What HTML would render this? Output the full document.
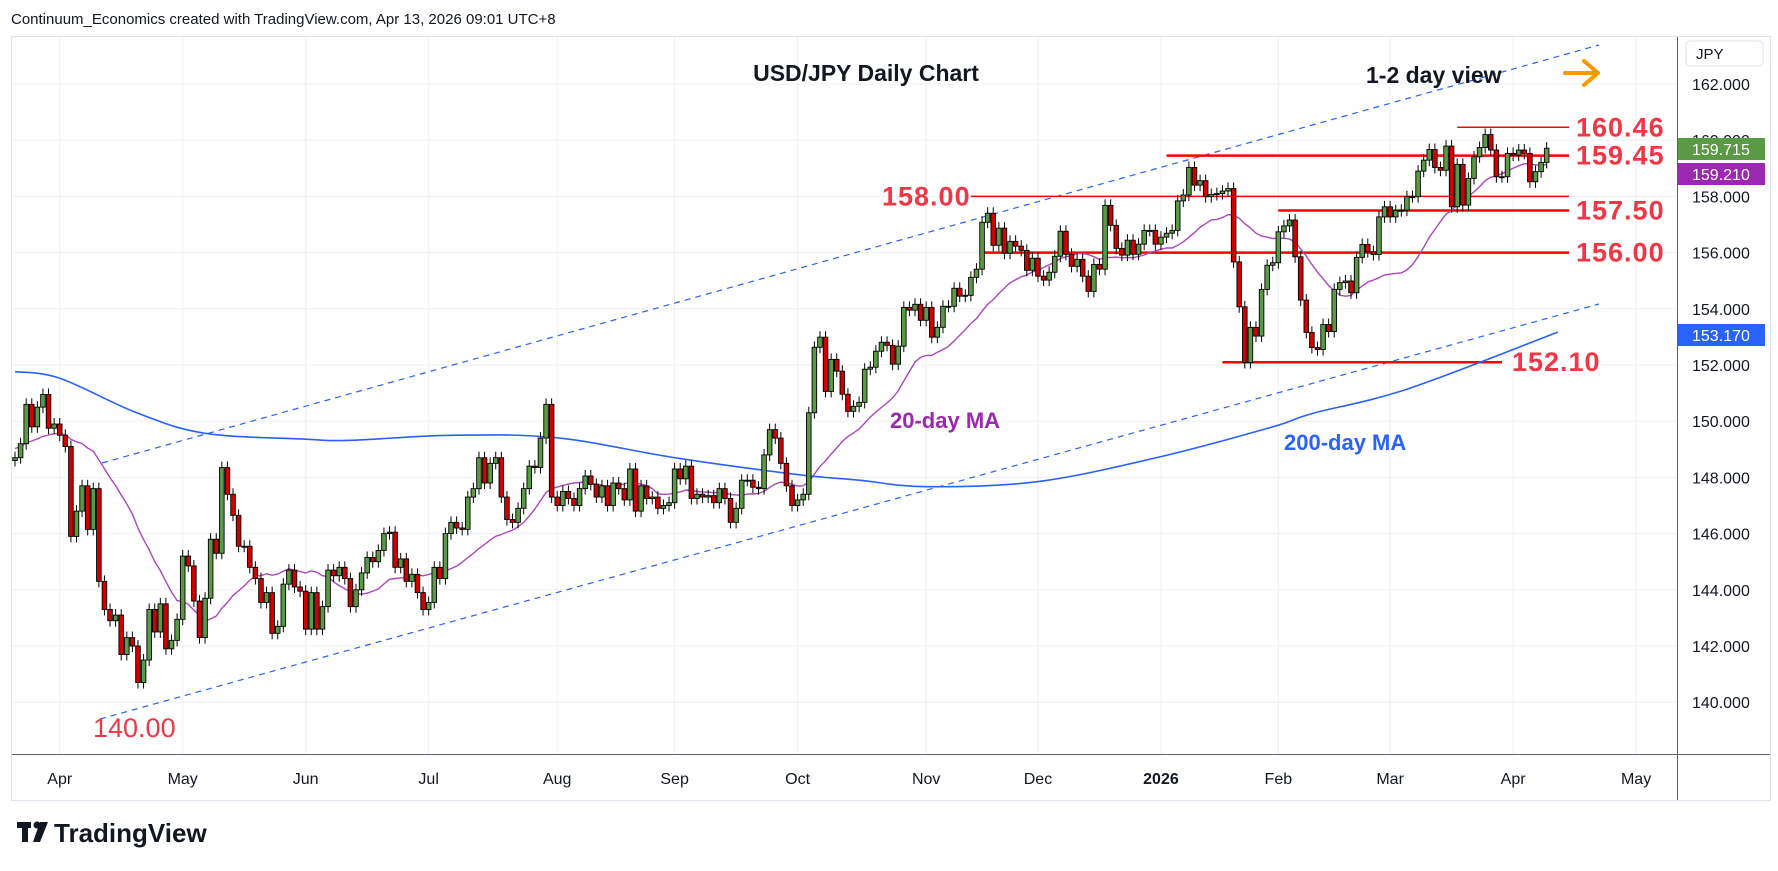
<!DOCTYPE html>
<html><head><meta charset="utf-8"><style>
html,body{margin:0;padding:0;background:#fff;}
svg{display:block;font-family:"Liberation Sans",sans-serif;}
</style></head><body>
<svg id="chart" width="1778" height="871" viewBox="0 0 1778 871" xmlns="http://www.w3.org/2000/svg">
<rect x="0" y="0" width="1778" height="871" fill="#fff"/>
<text x="11" y="24" font-size="15" fill="#131722">Continuum_Economics created with TradingView.com, Apr 13, 2026 09:01 UTC+8</text>
<rect x="11.5" y="36.5" width="1759" height="764" fill="none" stroke="#e0e3eb"/>
<g id="grid"></g>
<g id="annot"></g>
<g id="ma"></g>
<g id="candles"></g>
<line x1="1677.5" y1="37" x2="1677.5" y2="800" stroke="#5d606b"/>
<line x1="12" y1="754.5" x2="1770" y2="754.5" stroke="#5d606b"/>
<g id="axes"></g>
<text x="866" y="81" font-size="23" font-weight="bold" text-anchor="middle" fill="#131722">USD/JPY Daily Chart</text>
<text x="1366" y="83" font-size="23" font-weight="bold" fill="#131722">1-2 day view</text>
<g stroke="#ff9800" stroke-width="4" fill="none" stroke-linecap="round" stroke-linejoin="round">
<line x1="1565" y1="73" x2="1597" y2="73"/><polyline points="1584,61 1598,73 1584,85"/></g>
<text x="890" y="428" font-size="22" font-weight="bold" fill="#9c27b0">20-day MA</text>
<text x="1284" y="450" font-size="22" font-weight="bold" fill="#2962ff">200-day MA</text>
<rect x="1686" y="41" width="77" height="25" rx="4" fill="#fff" stroke="#e0e3eb"/>
<text x="1696" y="59" font-size="15" fill="#131722">JPY</text>
<g>
<rect x="17" y="822" width="14" height="6" fill="#131722"/><rect x="22" y="822" width="6" height="20" fill="#131722"/>
<circle cx="37" cy="825" r="3.5" fill="#131722"/><polygon points="40,822 48,822 40,842 33,842" fill="#131722"/>
<text x="54" y="842" font-size="26" font-weight="bold" fill="#131722">TradingView</text></g>
</svg>
<script>
const priorCloses=[148.0,147.8,148.5,148.9,149.3,148.7,149.0,149.5,149.8,149.2,148.6,148.9,149.4,149.9,150.3,149.7,149.2,148.8,148.4];
const closes=[148.7,149.2,150.6,149.8,150.5,150.95,149.75,149.9,149.5,149.1,145.9,146.8,147.7,146.15,147.6,144.3,143.3,142.9,143.1,141.7,142.3,142.0,140.7,141.5,143.3,142.5,143.5,141.9,142.2,142.95,145.2,144.85,143.6,142.3,143.7,145.8,145.3,148.35,147.4,146.65,145.55,145.55,144.8,144.4,143.55,143.9,142.45,142.7,144.2,144.7,144.1,143.95,142.6,143.9,142.6,143.4,144.7,144.5,144.8,144.4,143.4,144.0,144.6,145.15,145.0,145.4,146.0,146.05,144.8,145.1,144.3,144.55,143.9,143.3,143.55,144.8,144.4,146.0,
146.4,146.2,146.15,147.3,147.6,148.7,147.8,148.5,148.7,147.3,146.5,146.4,146.9,147.6,148.4,148.35,149.4,150.6,147.3,147.0,147.5,147.25,147.0,147.6,148.05,147.75,147.3,147.7,147.0,147.8,147.6,147.2,148.3,146.8,147.7,147.25,147.3,146.9,147.0,147.1,148.3,147.95,148.4,147.25,147.4,147.3,147.35,147.1,147.6,147.25,146.4,146.9,147.9,147.9,147.65,147.6,148.8,149.7,149.4,148.5,147.7,147.0,147.2,147.4,150.3,
152.63,152.99,151.06,152.2,151.78,150.96,150.35,150.53,150.67,151.85,151.92,152.49,152.81,152.7,152.03,152.67,154.05,153.95,154.16,153.59,154.05,152.99,153.34,154.09,154.09,154.73,154.45,154.48,155.12,155.41,157.08,157.4,156.26,156.87,155.98,156.4,156.23,156.08,155.37,155.8,155.16,155.02,155.3,155.87,156.76,155.94,155.51,155.76,155.16,154.62,155.58,155.41,157.68,156.97,156.15,155.91,156.44,155.94,156.3,156.79,156.79,156.3,156.55,156.69,156.79,
157.84,158.05,159.03,158.4,158.56,157.99,158.07,158.1,158.19,158.28,155.67,154.07,152.09,153.34,153.03,154.69,155.55,155.64,156.74,156.95,157.16,155.85,154.31,153.16,152.62,152.55,153.44,153.19,154.69,154.93,154.99,154.57,155.83,156.29,156.03,155.93,157.27,157.63,157.27,157.49,157.51,157.99,157.99,158.9,159.29,159.67,159.03,158.93,159.79,157.63,159.14,157.69,158.64,159.41,159.74,160.2,159.65,158.7,158.7,159.53,159.47,159.65,159.53,158.52,158.88,159.21,159.715];
const ma200Idx=[0,8,22,34,52,60,78,97,118,140,151,163,183,205,225,232,249,276];
const ma200Val=[151.76,151.53,150.28,149.57,149.36,149.32,149.5,149.41,148.7,148.1,147.9,147.67,147.85,148.74,149.8,150.27,151.14,153.17];
const priceTicks=[140,142,144,146,148,150,152,154,156,158,160,162];
const monthLabels=["Apr","May","Jun","Jul","Aug","Sep","Oct","Nov","Dec","2026","Feb","Mar","Apr","May"];
const monthIdx=[8,30,52,74,97,118,140,163,183,205,226,246,268,290];
const levelVals=[160.46,159.45,158.00,157.50,156.00,152.10];
const levelLabels=["160.46","159.45","158.00","157.50","156.00","152.10"];
const levelStartIdx=[258,206,171,226,173,216];
const levelEndIdx=[278,278,278,278,278,266];

const NS="http://www.w3.org/2000/svg";
const X0=15,STEP=5.59;
const xs=i=>X0+i*STEP;
const ys=p=>84+(162-p)*28.1;
function mk(t,a,parent){const e=document.createElementNS(NS,t);for(const k in a)e.setAttribute(k,a[k]);parent.appendChild(e);return e;}
const grid=document.getElementById('grid'),axes=document.getElementById('axes'),annot=document.getElementById('annot'),ma=document.getElementById('ma'),cg=document.getElementById('candles');

priceTicks.forEach(p=>{
 const l=mk('line',{x1:12,x2:1677,y1:ys(p),y2:ys(p),stroke:'#eef1f6'},grid);
 
 
 const t=mk('text',{x:1692,y:ys(p)+6,'font-size':16,fill:'#131722'},axes);
 t.textContent=p.toFixed(3);
 
 
});
monthLabels.forEach((m,k)=>{
 const x=xs(monthIdx[k]);
 const l=mk('line',{x1:x,x2:x,y1:37,y2:754,stroke:'#eef1f6'},grid);
 
 
 const t=mk('text',{x:x,y:784,'font-size':16,'text-anchor':'middle',fill:'#131722','font-weight':m==='2026'?'bold':'normal'},axes);
 t.textContent=m;
 
 
});

[[102,463,1599,45],[100,719,1599,304]].forEach((c,k)=>{
 const l=mk('line',{x1:c[0],y1:c[1],x2:c[2],y2:c[3],stroke:'#2962ff','stroke-width':1.2,'stroke-dasharray':'6,5'},annot);
 
 
});
levelVals.forEach((v,k)=>{
 const y=ys(v);
 const l=mk('line',{x1:xs(levelStartIdx[k]),x2:xs(levelEndIdx[k]),y1:y,y2:y,stroke:'#ff0000','stroke-width':(k===0||k===2)?1.5:2.5},annot);
 
 
 let tx=1576;
 if(k===2)tx=882;
 if(k===5)tx=xs(levelEndIdx[k])+10;
 const t=mk('text',{x:tx,y:y+9,'font-size':27,'font-weight':'bold',fill:'#f23645','letter-spacing':'1'},annot);
 t.textContent=levelLabels[k];
 
 
});
const lowLbl=mk('text',{x:93,y:737,'font-size':27,fill:'#f23645'},annot);
lowLbl.textContent='140.00';



const all=priorCloses.concat(closes);
let pts=[];
for(let i=0;i<closes.length;i++){
 let s=0;for(let j=i;j<i+20;j++)s+=all[j];
 pts.push(xs(i).toFixed(1)+','+ys(s/20).toFixed(1));
}
const m20=mk('polyline',{points:pts.join(' '),fill:'none',stroke:'#ab47bc','stroke-width':1.4},ma);


const P=ma200Idx.map((d,k)=>[xs(d),ys(ma200Val[k])]);
let d='M'+P[0][0].toFixed(1)+','+P[0][1].toFixed(1);
for(let i=0;i<P.length-1;i++){
 const p0=P[Math.max(i-1,0)],p1=P[i],p2=P[i+1],p3=P[Math.min(i+2,P.length-1)];
 const c1=[p1[0]+(p2[0]-p0[0])/6,p1[1]+(p2[1]-p0[1])/6],c2=[p2[0]-(p3[0]-p1[0])/6,p2[1]-(p3[1]-p1[1])/6];
 d+=' C'+c1.map(v=>v.toFixed(1)).join(',')+' '+c2.map(v=>v.toFixed(1)).join(',')+' '+p2.map(v=>v.toFixed(1)).join(',');
}
const m200=mk('path',{d:d,fill:'none',stroke:'#2962ff','stroke-width':1.6},ma);



for(let i=0;i<closes.length;i++){
 const c=closes[i],o=i===0?148.6:closes[i-1];
 const up=c>=o,x=xs(i);
 const top=ys(Math.max(o,c)),bot=ys(Math.min(o,c));
 const g=mk('g',{},cg);
 
 
 mk('line',{x1:x,x2:x,y1:top-6,y2:bot+6,stroke:'#000','stroke-width':1},g);
 mk('rect',{x:x-2.3,y:top,width:4.6,height:Math.max(bot-top,1),fill:up?'#5b9a45':'#d10000',stroke:'#000','stroke-width':0.9},g);
}

[[159.715,'#5b9a45',149],[159.21,'#9c27b0',174],[153.17,'#2962ff',335]].forEach(t=>{
 const r=mk('rect',{x:1678,y:t[2]-11,width:87,height:22,fill:t[1]},axes);
 
 
 const tx=mk('text',{x:1692,y:t[2]+6,'font-size':16,fill:'#fff'},axes);
 tx.textContent=t[0].toFixed(3);
 
 
});
</script>
</body></html>
